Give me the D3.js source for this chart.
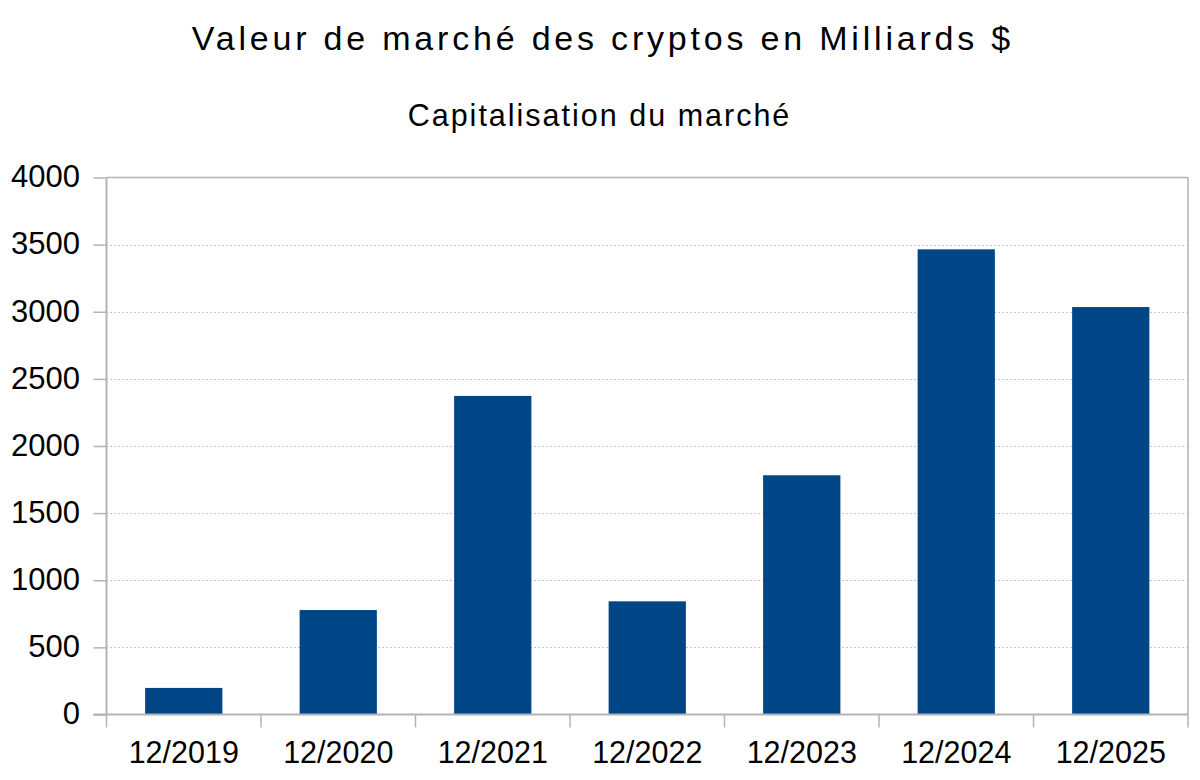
<!DOCTYPE html>
<html>
<head>
<meta charset="utf-8">
<script src="https://cdn.jsdelivr.net/npm/d3@7"></script>
<style>
html,body{margin:0;padding:0;background:#fff;}
svg text{font-family:"Liberation Sans",Arial,Helvetica,sans-serif;fill:#000;}
</style>
</head>
<body>
<svg id="chart" width="1200" height="780"></svg>
<script>
const categories = ["12/2019","12/2020","12/2021","12/2022","12/2023","12/2024","12/2025"];
const values = [198, 778, 2373, 843, 1782, 3465, 3035];
const yTicks = [0,500,1000,1500,2000,2500,3000,3500,4000];
const title = "Valeur de marché des cryptos en Milliards $";
const subtitle = "Capitalisation du marché";

const svg = d3.select("#chart");
const pLeft = 106.5, pRight = 1188, pTop = 177.5, pBottom = 714.5;

const x = d3.scaleBand().domain(categories).range([pLeft, pRight]).paddingInner(0.5).paddingOuter(0.25);
const xb = d3.scaleBand().domain(categories).range([pLeft, pRight]);
const y = d3.scaleLinear().domain([0, 4000]).range([pBottom, pTop]);

svg.append("text").attr("x", 601 + 1.9).attr("y", 50).attr("text-anchor","middle")
  .style("font-size","34px").style("letter-spacing","3.8px").text(title);
svg.append("text").attr("x", 598.5 + 1).attr("y", 126).attr("text-anchor","middle")
  .style("font-size","30.5px").style("letter-spacing","2px").text(subtitle);

// gridlines
svg.append("g").selectAll("line").data(yTicks.filter(d=>d>0 && d<4000)).join("line")
  .attr("x1", pLeft).attr("x2", pRight).attr("y1", d=>Math.round(y(d))+0.5).attr("y2", d=>Math.round(y(d))+0.5)
  .attr("stroke","#b3b3b3").attr("stroke-width",1.2).attr("stroke-dasharray","1.5,2.5");
svg.append("line").attr("x1", pLeft).attr("x2", pRight).attr("y1", pTop).attr("y2", pTop)
  .attr("stroke","#b3b3b3").attr("stroke-width",1.5);

// bars
svg.append("g").selectAll("rect").data(categories).join("rect")
  .attr("x", d=>x(d)).attr("width", x.bandwidth())
  .attr("y", (d,i)=>y(values[i])).attr("height", (d,i)=>pBottom - y(values[i]))
  .attr("fill","#004586");

// y axis
const yAxis = d3.axisLeft(y).tickValues(yTicks).tickSize(13).tickPadding(13.5).tickFormat(d3.format("d"));
const gy = svg.append("g").attr("transform", `translate(${pLeft},0)`).call(yAxis);
gy.select(".domain").remove();
gy.selectAll(".tick line").attr("stroke","#b3b3b3").attr("stroke-width",1.5);
gy.selectAll(".tick text").style("font-size","31px").attr("dy","0.3em");
svg.append("line").attr("x1", pLeft).attr("x2", pLeft).attr("y1", pTop).attr("y2", pBottom)
  .attr("stroke","#b3b3b3").attr("stroke-width",2);
svg.append("line").attr("x1", pRight).attr("x2", pRight).attr("y1", pTop).attr("y2", pBottom)
  .attr("stroke","#b3b3b3").attr("stroke-width",1.5);

// x axis
const gx = svg.append("g").attr("transform", `translate(0,${pBottom})`)
  .call(d3.axisBottom(x).tickSize(0).tickPadding(0));
gx.select(".domain").remove();
gx.selectAll(".tick text").attr("y", 48).attr("dy", 0).style("font-size","30.5px");
svg.append("line").attr("x1", pLeft - 13).attr("x2", pRight).attr("y1", pBottom).attr("y2", pBottom)
  .attr("stroke","#b3b3b3").attr("stroke-width",2);
svg.append("g").selectAll("line").data(categories.concat(["end"])).join("line")
  .attr("x1", (d,i)=> i < categories.length ? xb(d) : pRight)
  .attr("x2", (d,i)=> i < categories.length ? xb(d) : pRight)
  .attr("y1", pBottom).attr("y2", pBottom + 13)
  .attr("stroke","#b3b3b3").attr("stroke-width",1.5);
</script>
</body>
</html>
